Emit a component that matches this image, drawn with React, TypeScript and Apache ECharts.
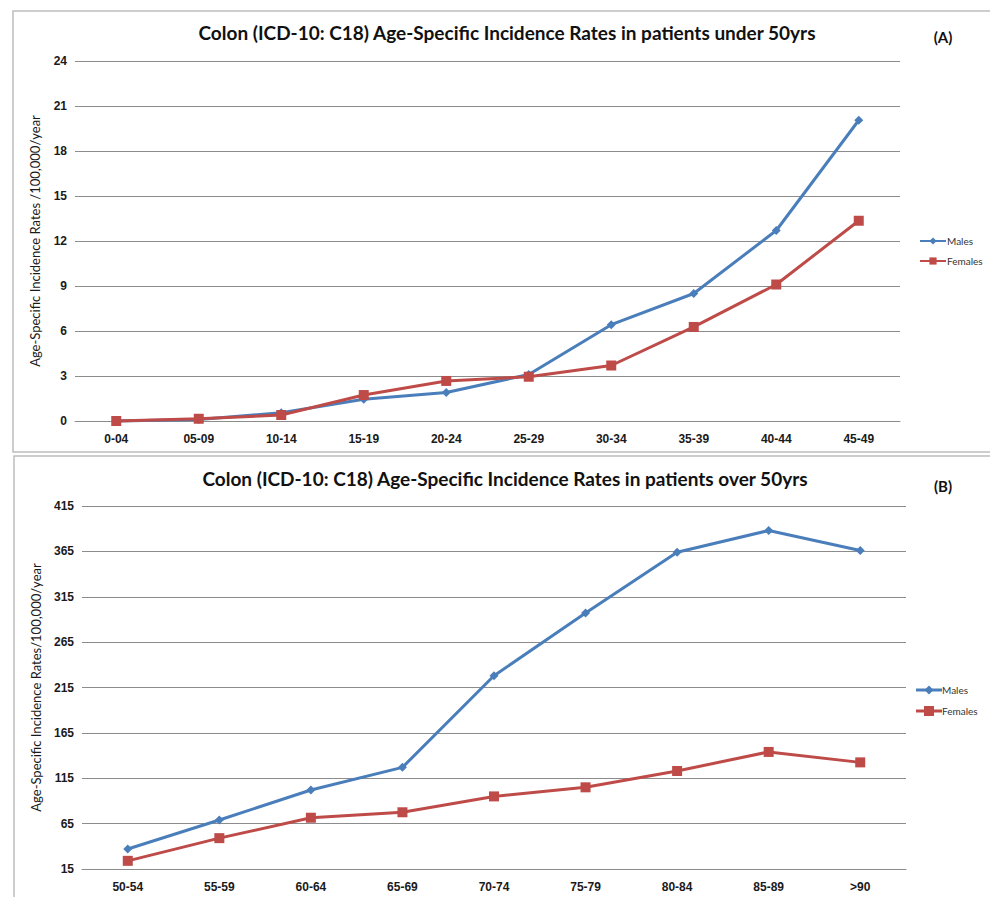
import React, { useEffect, useRef } from "react";
import * as echarts from "echarts";

const agesUnder50 = ["0-04", "05-09", "10-14", "15-19", "20-24", "25-29", "30-34", "35-39", "40-44", "45-49"];
const malesUnder50 = [0, 0.1, 0.55, 1.45, 1.9, 3.1, 6.42, 8.5, 12.7, 20.05];
const femalesUnder50 = [0, 0.15, 0.4, 1.73, 2.67, 2.95, 3.7, 6.27, 9.1, 13.35];

const agesOver50 = ["50-54", "55-59", "60-64", "65-69", "70-74", "75-79", "80-84", "85-89", ">90"];
const malesOver50 = [37, 69, 102, 127, 228, 297, 364, 388, 366];
const femalesOver50 = [24, 49, 71.5, 77.5, 95, 105, 123, 144, 132.5];

const yTicksA = [0, 3, 6, 9, 12, 15, 18, 21, 24];
const yTicksB = [15, 65, 115, 165, 215, 265, 315, 365, 415];

const titleA = "Colon (ICD-10: C18) Age-Specific Incidence Rates in patients under 50yrs";
const titleB = "Colon (ICD-10: C18) Age-Specific Incidence Rates in patients over 50yrs";
const yNameA = "Age-Specific Incidence Rates /100,000/year";
const yNameB = "Age-Specific Incidence Rates/100,000/year";
const seriesNames = ["Males", "Females"];

const BLUE = "#4A7EBB";
const RED = "#BE4B48";
const GRID = "#8C8C8C";
const LABEL_FONT = "'Liberation Sans', Arial, sans-serif";
const TITLE_FONT = "Lato, 'Open Sans', sans-serif";

export default function App() {
  const ref = useRef<HTMLDivElement>(null);
  useEffect(() => {
    if (!ref.current) return;
    const chart = echarts.init(ref.current, undefined, { renderer: "svg" });
    const axisLabel = { fontFamily: LABEL_FONT, fontWeight: "bold", fontSize: 12, color: "#1a1a1a" };
    const yAxisCommon = (ticks: number[], name: string) => ({
      type: "value",
      min: ticks[0],
      max: ticks[ticks.length - 1],
      interval: ticks[1] - ticks[0],
      name,
      nameLocation: "middle",
      nameGap: 34,
      nameTextStyle: { fontFamily: TITLE_FONT, fontSize: 13, color: "#1a1a1a" },
      axisLine: { show: false },
      axisTick: { show: false },
      axisLabel: { ...axisLabel, margin: 8 },
      splitLine: { lineStyle: { color: GRID, width: 1 } },
    });
    const xAxisCommon = (cats: string[], gridIndex: number) => ({
      type: "category",
      gridIndex,
      data: cats,
      boundaryGap: true,
      axisLine: { show: true, lineStyle: { color: GRID, width: 1 } },
      axisTick: { show: false },
      axisLabel: { ...axisLabel, margin: 12, interval: 0 },
    });
    const lineSeries = (name: string, data: number[], idx: number, color: string, symbol: string, size: number) => ({
      name,
      type: "line",
      xAxisIndex: idx,
      yAxisIndex: idx,
      data,
      symbol,
      symbolSize: size,
      showAllSymbol: true,
      clip: false,
      lineStyle: { color, width: 3 },
      itemStyle: { color },
    });
    const titleStyle = { fontFamily: TITLE_FONT, fontSize: 19, fontWeight: "bold", color: "#111" };
    chart.setOption({
      animation: false,
      backgroundColor: "#ffffff",
      title: [
        { text: titleA, left: 502, top: 18, textAlign: "center", textStyle: titleStyle },
        { text: titleB, left: 500, top: 464, textAlign: "center", textStyle: titleStyle },
      ],
      legend: [
        {
          orient: "vertical", left: 914, top: 231, itemWidth: 26, itemHeight: 9, itemGap: 10,
          data: seriesNames.map((n) => ({ name: n })),
          textStyle: { fontFamily: TITLE_FONT, fontSize: 10, color: "#333", padding: [0, 0, 0, -4] },
          selectedMode: false,
        },
      ],
      grid: [
        { left: 75, top: 61, width: 825, height: 360 },
        { left: 82, top: 506, width: 824, height: 363 },
      ],
      xAxis: [xAxisCommon(agesUnder50, 0), xAxisCommon(agesOver50, 1)],
      yAxis: [
        { ...yAxisCommon(yTicksA, yNameA), gridIndex: 0 },
        { ...yAxisCommon(yTicksB, yNameB), gridIndex: 1, nameGap: 40 },
      ],
      series: [
        lineSeries(seriesNames[0], malesUnder50, 0, BLUE, "diamond", 9),
        lineSeries(seriesNames[1], femalesUnder50, 0, RED, "rect", 10),
        lineSeries(seriesNames[0], malesOver50, 1, BLUE, "diamond", 9),
        lineSeries(seriesNames[1], femalesOver50, 1, RED, "rect", 10),
      ],
      graphic: [
        { type: "rect", shape: { x: 13, y: 11, width: 990, height: 441 }, style: { fill: "none", stroke: "#BDBDBD", lineWidth: 1.5 }, silent: true },
        { type: "rect", shape: { x: 14, y: 456, width: 990, height: 460 }, style: { fill: "none", stroke: "#BDBDBD", lineWidth: 1.5 }, silent: true },
        { type: "text", x: 943, y: 37, style: { text: "(A)", font: `bold 15px ${TITLE_FONT}`, fill: "#111", align: "center", verticalAlign: "middle" } },
        { type: "text", x: 943, y: 486, style: { text: "(B)", font: `bold 15px ${TITLE_FONT}`, fill: "#111", align: "center", verticalAlign: "middle" } },
        // Legend for panel B
        { type: "line", shape: { x1: 916, y1: 690, x2: 942, y2: 690 }, style: { stroke: BLUE, lineWidth: 3 } },
        { type: "polygon", shape: { points: [[929, 685.5], [933.5, 690], [929, 694.5], [924.5, 690]] }, style: { fill: BLUE } },
        { type: "text", x: 942, y: 690, style: { text: seriesNames[0], font: `10px ${TITLE_FONT}`, fill: "#333", verticalAlign: "middle" } },
        { type: "line", shape: { x1: 916, y1: 711, x2: 942, y2: 711 }, style: { stroke: RED, lineWidth: 3 } },
        { type: "rect", shape: { x: 924, y: 706, width: 10, height: 10 }, style: { fill: RED } },
        { type: "text", x: 942, y: 711, style: { text: seriesNames[1], font: `10px ${TITLE_FONT}`, fill: "#333", verticalAlign: "middle" } },
      ],
    });
    return () => chart.dispose();
  }, []);
  return <div ref={ref} style={{ position: "fixed", left: 0, top: 0, width: 990, height: 897 }} />;
}
